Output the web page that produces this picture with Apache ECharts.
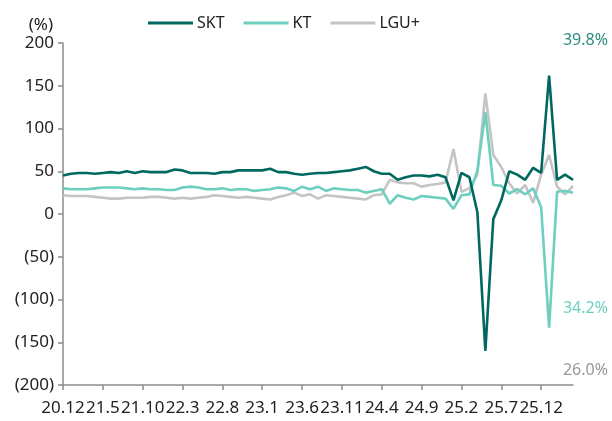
<!DOCTYPE html>
<html>
<head>
<meta charset="utf-8">
<script src="https://cdn.jsdelivr.net/npm/echarts@6/dist/echarts.min.js"></script>
<style>
    html, body { margin: 0; padding: 0; background: #fff; }
    #chart { width: 612px; height: 421px; }
</style>
</head>
<body>
<div id="chart"></div>
<script>
// 월별 (20.12 ~ 26.4)
var months = [
    '20.12',
    '21.1', '21.2', '21.3', '21.4', '21.5', '21.6', '21.7', '21.8', '21.9', '21.10', '21.11', '21.12',
    '22.1', '22.2', '22.3', '22.4', '22.5', '22.6', '22.7', '22.8', '22.9', '22.10', '22.11', '22.12',
    '23.1', '23.2', '23.3', '23.4', '23.5', '23.6', '23.7', '23.8', '23.9', '23.10', '23.11', '23.12',
    '24.1', '24.2', '24.3', '24.4', '24.5', '24.6', '24.7', '24.8', '24.9', '24.10', '24.11', '24.12',
    '25.1', '25.2', '25.3', '25.4', '25.5', '25.6', '25.7', '25.8', '25.9', '25.10', '25.11', '25.12',
    '26.1', '26.2', '26.3', '26.4'
];
var skt = [
    45, 47, 48, 48, 47, 48, 49, 48, 50, 48, 50, 49, 49, 49, 52, 51, 48, 48, 48, 47, 49, 49, 51,
    51, 51, 51, 53, 49, 49, 47, 46, 47, 48, 48, 49, 50, 51, 53, 55, 50, 47, 47, 40, 43, 45, 45,
    44, 46, 43, 16, 48, 43, 2, -160, -6, 16, 50, 46, 40, 54, 48, 162, 40, 46, 40
];
var kt = [
    30, 29, 29, 29, 30, 31, 31, 31, 30, 29, 30, 29, 29, 28, 28, 31, 32, 31, 29, 29, 30, 28, 29,
    29, 27, 28, 29, 31, 30, 27, 32, 29, 32, 27, 30, 29, 28, 28, 25, 27, 29, 12, 22, 19, 17, 21,
    20, 19, 18, 6, 22, 23, 51, 119, 34, 33, 24, 29, 23, 30, 8, -133, 26, 27, 25
];
var lgu = [
    22, 21, 21, 21, 20, 19, 18, 18, 19, 19, 19, 20, 20, 19, 18, 19, 18, 19, 20, 22, 21, 20, 19,
    20, 19, 18, 17, 20, 22, 25, 21, 23, 18, 22, 21, 20, 19, 18, 17, 22, 23, 40, 37, 36, 36, 32,
    34, 35, 37, 76, 26, 30, 46, 141, 69, 55, 36, 24, 34, 13, 46, 69, 32, 23, 33
];
var seriesNames = ['SKT', 'KT', 'LGU+'];
var seriesColors = ['#00695f', '#6dcfc0', '#c4c4c4'];
var noteTexts = ['39.8%', '34.2%', '26.0%'];
var noteColors = ['#2e8c80', '#6dcfc0', '#9a9a9a'];

var font = "'Noto Sans', sans-serif";
var axisGrey = '#8c8c8c';

var myChart = echarts.init(document.getElementById('chart'));

function makeLine(name, data, color) {
    return {
        name: name,
        type: 'line',
        data: data,
        xAxisIndex: 1,
        showSymbol: false,
        symbol: 'none',
        lineStyle: { color: color, width: 2.6 },
        itemStyle: { color: color },
        animation: false
    };
}

myChart.setOption({
    animation: false,
    textStyle: { fontFamily: font },
    grid: { left: 63, right: 39, top: 43, bottom: 36 },
    legend: {
        top: 10,
        left: 143,
        icon: 'rect',
        itemWidth: 45,
        itemHeight: 3,
        itemGap: 19,
        textStyle: { fontSize: 16, color: '#222', fontFamily: font, padding: [0, 0, 0, -1] },
        data: seriesNames
    },
    xAxis: [
        {
            // 하단 라벨 전용
            type: 'category',
            data: months,
            boundaryGap: false,
            position: 'bottom',
            axisLine: { show: false },
            axisTick: { show: false },
            axisLabel: {
                interval: 4,
                color: '#222',
                fontSize: 17,
                margin: 15,
                fontFamily: font
            },
            splitLine: { show: false }
        },
        {
            // 0 기준선 + 눈금
            type: 'category',
            data: months,
            boundaryGap: false,
            position: 'bottom',
            axisLine: { onZero: true, lineStyle: { color: axisGrey, width: 1.5 } },
            axisTick: { show: true, interval: 4, length: 5, lineStyle: { color: axisGrey, width: 1.5 } },
            axisLabel: { show: false },
            splitLine: { show: false }
        }
    ],
    yAxis: {
        type: 'value',
        min: -200,
        max: 200,
        interval: 50,
        name: '(%)',
        nameLocation: 'end',
        nameGap: 9,
        nameTextStyle: { color: '#222', fontSize: 17, align: 'right', padding: [0, 10, 0, 0] },
        axisLine: { show: true, lineStyle: { color: axisGrey, width: 1.5 } },
        axisTick: { show: true, length: 5, lineStyle: { color: axisGrey, width: 1.5 } },
        axisLabel: {
            color: '#222',
            fontSize: 17,
            margin: 9,
            formatter: function (v) {
                return v < 0 ? '(' + Math.abs(v) + ')' : String(v);
            }
        },
        splitLine: { show: false }
    },
    graphic: [
        { type: 'text', right: 4, top: 32, style: { text: noteTexts[0], fill: noteColors[0], font: '16px ' + font } },
        { type: 'text', right: 4, top: 300, style: { text: noteTexts[1], fill: noteColors[1], font: '16px ' + font } },
        { type: 'text', right: 4, top: 362, style: { text: noteTexts[2], fill: noteColors[2], font: '16px ' + font } }
    ],
    series: [
        makeLine(seriesNames[2], lgu, seriesColors[2]),
        makeLine(seriesNames[1], kt, seriesColors[1]),
        makeLine(seriesNames[0], skt, seriesColors[0])
    ]
});
</script>
</body>
</html>
